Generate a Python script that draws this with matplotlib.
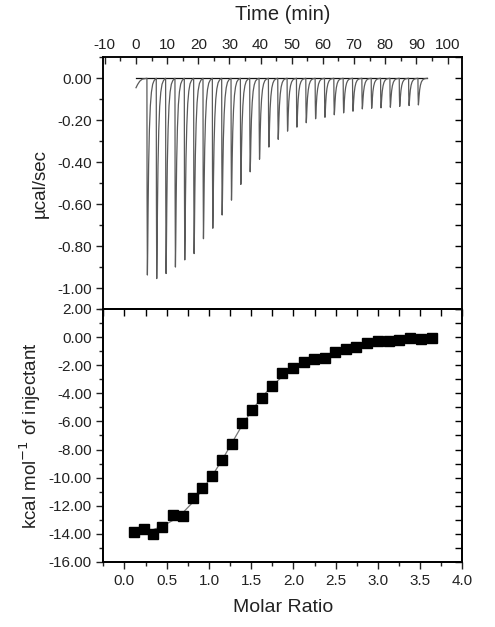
"""
ITC thermogram and binding isotherm
"""
import numpy as np
import matplotlib
matplotlib.use("Agg")
import matplotlib.pyplot as plt
from matplotlib.ticker import MultipleLocator, FormatStrFormatter

plt.rcParams['font.family'] = ['Liberation Sans', 'DejaVu Sans']
plt.rcParams['axes.unicode_minus'] = False

# raw heat trace: injection times (min) and peak minima (ucal/sec)
inj_time = [3.5, 6.5, 9.5, 12.5, 15.5, 18.5, 21.5, 24.5, 27.5, 30.5,
            33.5, 36.5, 39.5, 42.5, 45.5, 48.5, 51.5, 54.5, 57.5, 60.5,
            63.5, 66.5, 69.5, 72.5, 75.5, 78.5, 81.5, 84.5, 87.5, 90.5]
peak_depth = [-0.938, -0.955, -0.931, -0.900, -0.866, -0.836, -0.765, -0.715,
              -0.652, -0.581, -0.506, -0.446, -0.386, -0.328, -0.291, -0.252,
              -0.233, -0.212, -0.193, -0.186, -0.174, -0.165, -0.157, -0.146,
              -0.143, -0.141, -0.138, -0.134, -0.130, -0.127]
# small drift at the start of the run
start_time = [0.0, 0.5, 1.2, 2.0, 3.4]
start_val = [-0.045, -0.03, -0.014, -0.004, 0.0]
baseline_end = 93.3

# integrated heats
molar_ratio = [0.11, 0.23, 0.34, 0.45, 0.57, 0.69, 0.81, 0.92, 1.04, 1.16,
               1.27, 1.39, 1.51, 1.63, 1.75, 1.87, 1.99, 2.12, 2.24, 2.37,
               2.49, 2.62, 2.74, 2.87, 3.00, 3.13, 3.25, 3.38, 3.51, 3.64]
heat = [-13.84, -13.67, -14.03, -13.48, -12.63, -12.70, -11.45, -10.76,
        -9.86, -8.72, -7.58, -6.14, -5.21, -4.36, -3.46, -2.56, -2.23,
        -1.75, -1.54, -1.49, -1.09, -0.88, -0.73, -0.43, -0.28, -0.28,
        -0.19, -0.05, -0.12, -0.05]
fit = [-13.95, -13.85, -13.70, -13.45, -13.05, -12.50, -11.75, -10.85,
       -9.85, -8.70, -7.55, -6.30, -5.20, -4.25, -3.45, -2.80, -2.30,
       -1.90, -1.60, -1.35, -1.12, -0.93, -0.76, -0.60, -0.47, -0.37,
       -0.30, -0.23, -0.18, -0.14]

# peak shape (offset in min, fraction of depth)
shape_dt = [0.0, 0.05, 0.15, 0.25, 0.38, 0.55, 0.8, 1.1, 1.45, 1.85, 2.3, 2.75, 3.0]
shape_f = [0.0, 0.6, 1.0, 0.88, 0.66, 0.44, 0.26, 0.14, 0.07, 0.03, 0.012, 0.003, 0.0]

txt = '#222222'
fig = plt.figure(figsize=(4.95, 6.27), dpi=100)
ax1 = fig.add_axes([0.2087, 0.5072, 0.7256, 0.4014])
ax2 = fig.add_axes([0.2087, 0.1037, 0.7256, 0.4035])

# top panel
tt = list(start_time)
yy = list(start_val)
for t0, d in zip(inj_time, peak_depth):
  for dt, f in zip(shape_dt, shape_f):
    tt.append(t0 + dt)
    yy.append(d * f)
ax1.plot([0, baseline_end], [0, 0], color='#111111', lw=0.9)
ax1.plot(tt, yy, color='#5a5a5a', lw=0.9)
ax1.set_xlim(-10.5, 104.8)
ax1.set_ylim(-1.1, 0.1)
ax1.xaxis.set_major_locator(MultipleLocator(10))
ax1.xaxis.set_minor_locator(MultipleLocator(5))
ax1.yaxis.set_major_locator(MultipleLocator(0.2))
ax1.yaxis.set_minor_locator(MultipleLocator(0.1))
ax1.yaxis.set_major_formatter(FormatStrFormatter('%.2f'))
ax1.xaxis.set_ticks_position('top')
ax1.xaxis.set_label_position('top')
ax1.tick_params(axis='x', which='both', direction='in', top=True, bottom=False,
                labeltop=True, labelbottom=False, colors=txt, labelsize=11)
ax1.tick_params(axis='y', which='both', left=True, right=False, direction='out',
                colors=txt, labelsize=11)
ax1.tick_params(which='major', length=5, width=1)
ax1.tick_params(which='minor', length=3, width=1)
ax1r = ax1.twinx()
ax1r.set_ylim(ax1.get_ylim())
ax1r.yaxis.set_major_locator(MultipleLocator(0.1))
ax1r.tick_params(axis='y', direction='in', length=5, width=1, labelright=False)
ax1.set_xlabel('Time (min)', fontsize=14.5, color=txt, labelpad=13)
ax1.set_ylabel('\u00b5cal/sec', fontsize=13.5, color=txt, labelpad=6)

# bottom panel
ax2.plot(molar_ratio, fit, color='#777777', lw=0.9, zorder=2)
ax2.plot(molar_ratio, heat, 's', color='black', markersize=6.5, zorder=3)
ax2.set_xlim(-0.25, 4.0)
ax2.set_ylim(-16, 2)
ax2.xaxis.set_major_locator(MultipleLocator(0.5))
ax2.xaxis.set_minor_locator(MultipleLocator(0.25))
ax2.yaxis.set_major_locator(MultipleLocator(2))
ax2.yaxis.set_minor_locator(MultipleLocator(1))
ax2.xaxis.set_major_formatter(FormatStrFormatter('%.1f'))
ax2.yaxis.set_major_formatter(FormatStrFormatter('%.2f'))
ax2.tick_params(axis='both', which='both', direction='out', colors=txt, labelsize=11)
ax2.tick_params(which='major', length=5, width=1)
ax2.tick_params(which='minor', length=3, width=1)
ax2t = ax2.twiny()
ax2t.set_xlim(ax2.get_xlim())
ax2t.xaxis.set_major_locator(MultipleLocator(0.25))
ax2t.tick_params(axis='x', direction='in', length=5, width=1, labeltop=False)
ax2r = ax2.twinx()
ax2r.set_ylim(ax2.get_ylim())
ax2r.yaxis.set_major_locator(MultipleLocator(1))
ax2r.tick_params(axis='y', direction='in', length=5, width=1, labelright=False)
ax2.set_xlabel('Molar Ratio', fontsize=14, color=txt, labelpad=8)
ax2.set_ylabel('kcal mol$^{-1}$ of injectant', fontsize=13.5, color=txt, labelpad=4)

for a in [ax1, ax2, ax1r, ax2t, ax2r]:
  for s in a.spines.values():
    s.set_linewidth(1.1)

plt.savefig('out.png', dpi=100)
